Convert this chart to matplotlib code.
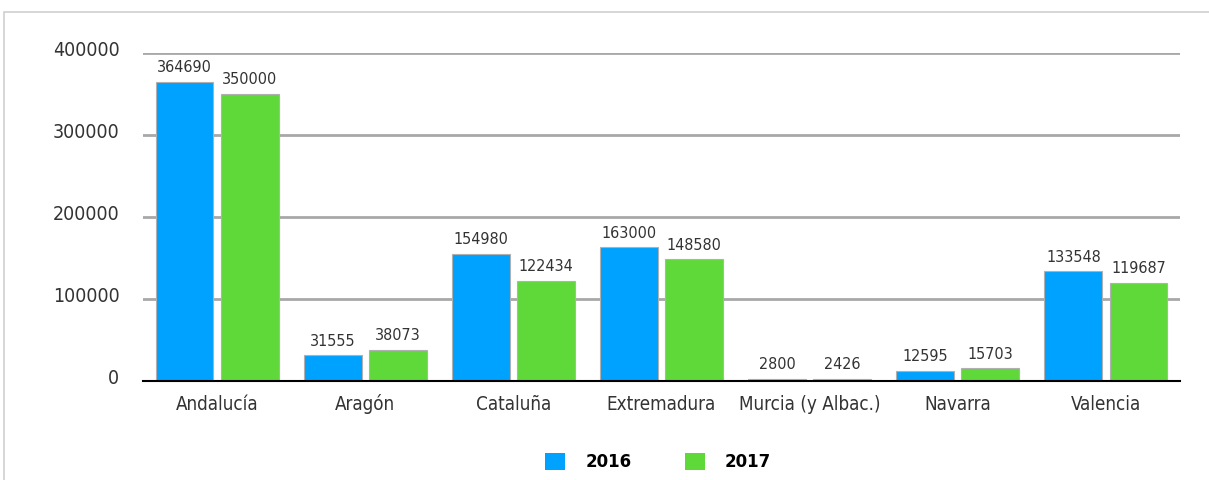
import numpy as np
import matplotlib.pyplot as plt
import matplotlib.transforms as mtransforms
from matplotlib.patches import Rectangle, Patch

regiones = ['Andalucía', 'Aragón', 'Cataluña', 'Extremadura', 'Murcia (y Albac.)', 'Navarra', 'Valencia']
v2016 = [364690, 31555, 154980, 163000, 2800, 12595, 133548]
v2017 = [350000, 38073, 122434, 148580, 2426, 15703, 119687]
yticks = [0, 100000, 200000, 300000, 400000]

azul = '#00a2ff'
verde = '#5fd93a'

fig = plt.figure(figsize=(12.09, 4.8), dpi=100)
fig.patches.append(Rectangle((4/1209, -0.1), 1.1, 1 - 12/480 + 0.1, transform=fig.transFigure,
                             fill=False, edgecolor='#d0d0d0', linewidth=1.2))
ax = fig.add_axes([143/1209, 99/480, 1037/1209, 328/480])

x = np.arange(len(regiones))
w = 0.39
b1 = ax.bar(x - 0.22, v2016, w, color=azul, edgecolor='#b0b0b0', linewidth=0.8, zorder=3)
b2 = ax.bar(x + 0.22, v2017, w, color=verde, edgecolor='#b0b0b0', linewidth=0.8, zorder=3)

for bars, vals in ((b1, v2016), (b2, v2017)):
    for r, v in zip(bars, vals):
        ax.text(r.get_x() + r.get_width() / 2, v + 8000, str(v), ha='center', va='bottom',
                fontsize=11.5, color='#333333', fontstretch='condensed')

ax.set_xlim(-0.5, 6.5)
ax.set_ylim(0, 400000)
ax.set_yticks(yticks)
ax.set_yticklabels([str(t) for t in yticks], fontsize=14, color='#333333', fontstretch='condensed')
ax.set_xticks(x)
ax.set_xticklabels(regiones, fontsize=13.5, color='#333333', fontstretch='condensed', va='baseline')
ax.tick_params(axis='both', length=0)
ax.tick_params(axis='y', pad=17)
ax.tick_params(axis='x', pad=21)
# labels a little above their gridline
up = mtransforms.ScaledTranslation(0, 3/72, fig.dpi_scale_trans)
for lbl in ax.get_yticklabels():
    lbl.set_transform(lbl.get_transform() + up)
ax.grid(axis='y', color='#a8a8a8', linewidth=2, zorder=0)
for s in ['top', 'right', 'left']:
    ax.spines[s].set_visible(False)
ax.spines['bottom'].set_color('black')
ax.spines['bottom'].set_linewidth(1.5)
ax.spines['bottom'].set_zorder(4)

handles = [Patch(facecolor=azul, edgecolor='none'), Patch(facecolor=verde, edgecolor='none')]
fig.legend(handles, ['2016', '2017'], loc='center', bbox_to_anchor=(658/1209, 1 - 462/480),
           ncol=2, frameon=False, handlelength=1.2, handleheight=1.2, columnspacing=3.2,
           handletextpad=1.2, prop={'weight': 'bold', 'size': 12, 'family': 'DejaVu Sans'})

fig.savefig('out.png', dpi=100)
